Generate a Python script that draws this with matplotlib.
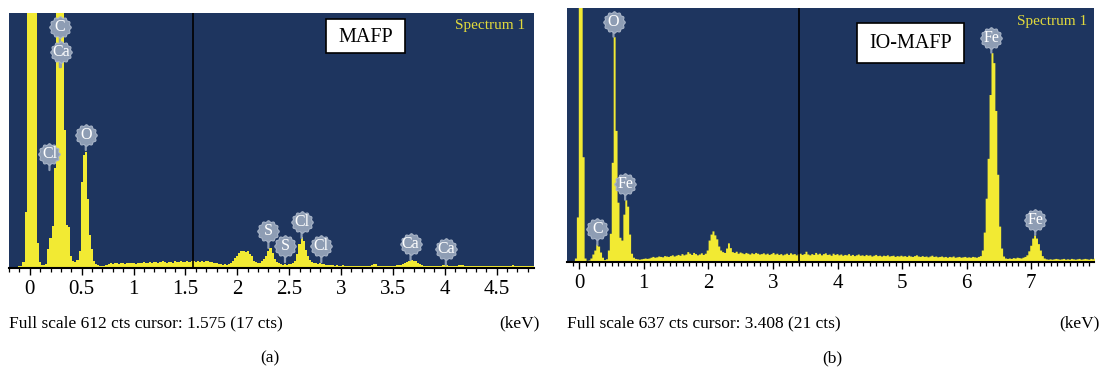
import numpy as np
import matplotlib
matplotlib.use("Agg")
import matplotlib.pyplot as plt
from matplotlib.path import Path
from matplotlib.patches import Rectangle
from matplotlib.ticker import MultipleLocator
import matplotlib.transforms as mtransforms

plt.rcParams['font.family'] = ['Liberation Serif', 'DejaVu Serif']

W, H = 1107, 377

# ---- spectrum (a): MAFP, channels of 0.02 keV starting at -0.12 keV
start_a, step_a = -0.12, 0.02
counts_a = [
    3, 4, 6, 14, 134, 900, 900, 900, 900, 900,      # -0.12
    60, 15, 8, 7, 10, 45, 72, 100, 240, 900,        # 0.08
    900, 900, 900, 331, 103, 98, 30, 16, 14, 20,    # 0.28
    40, 206, 272, 278, 165, 80, 45, 18, 10, 8,      # 0.48
    6, 5, 4, 7, 10, 11, 10, 12, 11, 10,             # 0.68
    12, 11, 10, 12, 13, 11, 12, 10, 11, 13,         # 0.88
    12, 15, 13, 12, 14, 13, 15, 14, 12, 14,         # 1.08
    16, 14, 13, 15, 14, 13, 16, 15, 14, 17,         # 1.28
    15, 14, 16, 15, 17, 17, 15, 18, 14, 16,         # 1.48
    15, 17, 16, 14, 15, 13, 12, 10, 9, 8,           # 1.68
    9, 8, 10, 12, 18, 24, 30, 36, 40, 41,           # 1.88
    38, 40, 34, 28, 18, 14, 12, 13, 16, 22,         # 2.08
    30, 42, 48, 36, 22, 14, 11, 9, 8, 9,            # 2.28
    8, 9, 10, 12, 18, 34, 58, 74, 66, 44,           # 2.48
    30, 20, 15, 12, 11, 10, 11, 10, 9, 8,           # 2.68
    8, 7, 7, 6, 7, 6, 6, 7, 6, 6,                   # 2.88
    5, 6, 5, 6, 5, 6, 5, 6, 5, 6,                   # 3.08
    6, 7, 10, 9, 6, 5, 5, 6, 5, 6,                  # 3.28
    5, 5, 6, 7, 8, 7, 9, 11, 14, 17,                # 3.48
    19, 18, 16, 12, 9, 7, 6, 6, 5, 6,               # 3.68
    5, 5, 6, 5, 6, 7, 8, 7, 6, 5,                   # 3.88
    5, 6, 5, 7, 8, 7, 5, 5, 5, 4,                   # 4.08
    5, 5, 4, 5, 5, 4, 5, 4, 5, 5,                   # 4.28
    4, 5, 6, 5, 4, 5, 4, 5, 6, 7,                   # 4.48
    6, 5, 4, 5, 4, 5, 6, 5, 4, 5,                   # 4.68
]
ticks_a = [0, 0.5, 1, 1.5, 2, 2.5, 3, 3.5, 4, 4.5]
tick_labels_a = ['0', '0.5', '1', '1.5', '2', '2.5', '3', '3.5', '4', '4.5']
tags_a = ['C', 'Ca', 'Cl', 'O', 'S', 'S', 'Cl', 'Cl', 'Ca', 'Ca']
tag_kev_a = [0.29, 0.30, 0.19, 0.54, 2.30, 2.46, 2.62, 2.81, 3.67, 4.01]
tag_cts_a = [482, 482, 235, 283, 48, 14, 72, 14, 19, 7]

# ---- spectrum (b): IO-MAFP, channels of 0.03 keV starting at -0.09 keV
start_b, step_b = -0.09, 0.03
counts_b = [
    4, 10, 113, 900, 900, 264, 10, 4, 5, 10,        # -0.09
    20, 30, 45, 40, 25, 12, 6, 8, 30, 72,           # 0.21
    250, 565, 330, 150, 62, 55, 120, 156, 140, 70,  # 0.51
    22, 12, 9, 8, 7, 8, 9, 10, 9, 10,               # 0.81
    12, 14, 12, 13, 15, 14, 13, 16, 15, 14,         # 1.11
    16, 18, 15, 17, 19, 17, 21, 18, 20, 26,         # 1.41
    22, 19, 24, 21, 18, 20, 23, 19, 22, 30,         # 1.71
    55, 70, 78, 68, 58, 40, 30, 26, 24, 35,         # 2.01
    48, 36, 26, 24, 27, 22, 25, 23, 21, 24,         # 2.31
    22, 20, 23, 21, 24, 22, 20, 21, 23, 20,         # 2.61
    22, 19, 21, 24, 20, 22, 19, 21, 18, 20,         # 2.91
    22, 19, 23, 20, 21, 18, 21, 22, 19, 21,         # 3.21
    27, 20, 18, 21, 19, 24, 20, 22, 18, 21,         # 3.51
    23, 19, 20, 17, 22, 19, 21, 18, 20, 17,         # 3.81
    19, 18, 21, 17, 19, 16, 18, 20, 17, 18,         # 4.11
    16, 19, 17, 18, 15, 17, 19, 16, 17, 15,         # 4.41
    17, 16, 18, 15, 16, 17, 14, 16, 15, 17,         # 4.71
    15, 16, 14, 17, 15, 14, 16, 18, 15, 14,         # 5.01
    16, 14, 15, 13, 15, 17, 14, 15, 13, 14,         # 5.31
    15, 13, 14, 12, 14, 13, 15, 12, 13, 14,         # 5.61
    12, 13, 14, 12, 13, 12, 14, 13, 12, 14,         # 5.91
    16, 30, 75, 160, 260, 420, 525, 500, 380, 220,  # 6.21
    90, 35, 15, 10, 9, 10, 9, 11, 10, 12,           # 6.51
    11, 10, 12, 14, 18, 28, 42, 60, 68, 60,         # 6.81
    46, 30, 16, 10, 8, 7, 8, 7, 8, 9,               # 7.11
    8, 7, 8, 9, 7, 8, 7, 9, 8, 7,                   # 7.41
    8, 9, 7, 8, 9, 8, 7, 9, 8, 10,                  # 7.71
]
tags_b = ['C', 'O', 'Fe', 'Fe', 'Fe']
tag_kev_b = [0.28, 0.53, 0.71, 6.38, 7.06]
tag_cts_b = [43, 565, 156, 525, 68]

NAVY = '#1e355f'
YELLOW = '#f2ea33'
TAG = '#8e9db4'
TAG_EDGE = '#a9b5c8'
LABEL_YEL = '#e2da3c'

# scalloped disc used for the element tags
theta = np.linspace(0, 2 * np.pi, 97)
rad = 1 + 0.07 * np.cos(12 * theta)
tag_marker = Path(np.column_stack([rad * np.cos(theta), rad * np.sin(theta)]), closed=True)


def fx(px):
    return px / W


def fy(py):
    return 1 - py / H


def draw_tags(ax, names, kev, cts, lifts):
    for name, x, y, lift in zip(names, kev, cts, lifts):
        off = mtransforms.ScaledTranslation(0, lift / 100, ax.figure.dpi_scale_trans)
        # stem from the peak up to the disc
        ax.annotate('', xy=(x, y), xytext=(0, lift * 0.72), textcoords='offset points',
                    arrowprops=dict(arrowstyle='-', color=TAG, lw=1.6, shrinkA=0, shrinkB=0),
                    zorder=4)
        ax.plot([x], [y], marker=tag_marker, ms=15.5, mfc=TAG, mec=TAG_EDGE, mew=0.8,
                transform=ax.transData + off, zorder=5, clip_on=False)
        ax.annotate(name, xy=(x, y), xytext=(0, lift * 0.72), textcoords='offset points',
                    ha='center', va='center', color='white', fontsize=11.5, zorder=6)


def setup(ax, xlim, ymax, major, cursor):
    ax.set_facecolor(NAVY)
    ax.set_xlim(*xlim)
    ax.set_ylim(0, ymax)
    for s in ('left', 'right', 'top'):
        ax.spines[s].set_visible(False)
    ax.spines['bottom'].set_linewidth(1.5)
    ax.spines['bottom'].set_zorder(7)
    ax.set_yticks([])
    ax.xaxis.set_major_locator(MultipleLocator(major))
    ax.xaxis.set_minor_locator(MultipleLocator(0.1))
    ax.tick_params(axis='x', which='major', length=5, width=1, direction='out', labelsize=15, pad=4)
    ax.tick_params(axis='x', which='minor', length=3, width=0.9, direction='out')
    ax.axvline(cursor, color='black', lw=1.2, zorder=3)


fig = plt.figure(figsize=(W / 100, H / 100), dpi=100)

ax1 = fig.add_axes([fx(9), fy(268), fx(525), 255 / H])
e_a = start_a + step_a * np.arange(len(counts_a))
ax1.fill_between(e_a, counts_a, step='mid', color=YELLOW, lw=0, zorder=2)
setup(ax1, (-0.2, 4.86), 612, 0.5, 1.575)
ax1.set_xticks(ticks_a)
ax1.set_xticklabels(tick_labels_a)
draw_tags(ax1, tags_a, tag_kev_a, tag_cts_a, [40, 15, 16, 15, 17, 16, 16, 16, 16, 16])

ax2 = fig.add_axes([fx(567), fy(262), fx(527), 254 / H])
e_b = start_b + step_b * np.arange(len(counts_b))
ax2.fill_between(e_b, counts_b, step='mid', color=YELLOW, lw=0, zorder=2)
setup(ax2, (-0.19, 7.97), 637, 1, 3.408)
draw_tags(ax2, tags_b, tag_kev_b, tag_cts_b, [16, 15, 16, 15, 15])

# sample name boxes
for (x0, y0, x1, y1), name in [((326, 19, 405, 53), 'MAFP'), ((857, 23, 964, 63), 'IO-MAFP')]:
    fig.add_artist(Rectangle((fx(x0), fy(y1)), fx(x1 - x0), (y1 - y0) / H,
                             transform=fig.transFigure, fc='white', ec='black', lw=1.2, zorder=8))
    fig.text(fx((x0 + x1) / 2), fy((y0 + y1) / 2 + 1), name, ha='center', va='center',
             fontsize=14.5, zorder=9)

fig.text(fx(525), fy(26), 'Spectrum 1', ha='right', va='center', color=LABEL_YEL, fontsize=11)
fig.text(fx(1087), fy(21), 'Spectrum 1', ha='right', va='center', color=LABEL_YEL, fontsize=11)

fig.text(fx(9), fy(323), 'Full scale 612 cts cursor: 1.575 (17 cts)', ha='left', va='center', fontsize=12.5)
fig.text(fx(540), fy(323), '(keV)', ha='right', va='center', fontsize=12.5)
fig.text(fx(567), fy(323), 'Full scale 637 cts cursor: 3.408 (21 cts)', ha='left', va='center', fontsize=12.5)
fig.text(fx(1100), fy(323), '(keV)', ha='right', va='center', fontsize=12.5)
fig.text(fx(270), fy(358), '(a)', ha='center', va='center', fontsize=12.5)
fig.text(fx(832), fy(358), '(b)', ha='center', va='center', fontsize=12.5)

fig.savefig('out.png', dpi=100)
